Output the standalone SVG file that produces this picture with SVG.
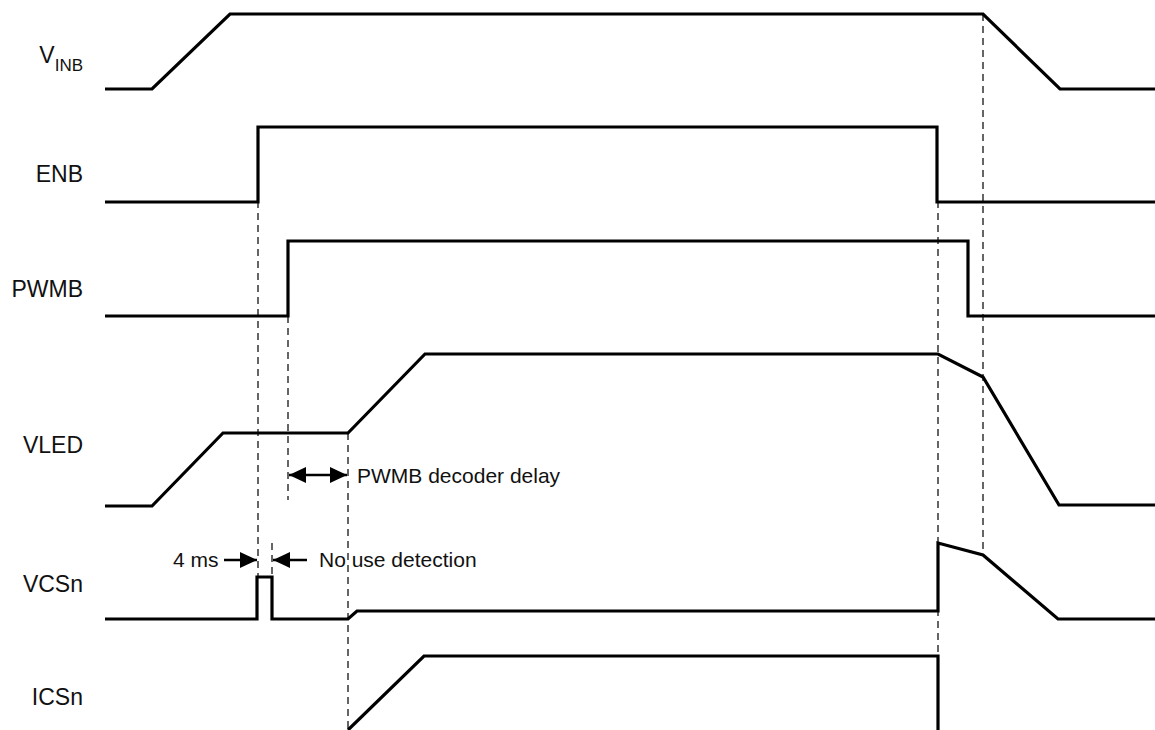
<svg xmlns="http://www.w3.org/2000/svg" width="1155" height="730" viewBox="0 0 1155 730">
<style>
.sig{fill:none;stroke:#000;stroke-width:3.2;stroke-linejoin:miter}
.dash{fill:none;stroke:#333;stroke-width:1.5;stroke-dasharray:7,5}
.lbl{font-family:"Liberation Sans",Arial,sans-serif;font-size:23px;fill:#111;text-anchor:end}
.ann{font-family:"Liberation Sans",Arial,sans-serif;font-size:21px;fill:#111}
.arr{stroke:#000;stroke-width:2.6;fill:none}
</style>
<defs>
<marker id="ah2" viewBox="0 0 10 10" refX="10" refY="5" markerWidth="17" markerHeight="16" markerUnits="userSpaceOnUse" orient="auto-start-reverse" preserveAspectRatio="none">
<path d="M0,0 L10,5 L0,10 Z" fill="#000"/>
</marker>
</defs>
<g id="guides">
<line class="dash" x1="258" y1="201" x2="258" y2="577"/>
<line class="dash" x1="272" y1="543" x2="272" y2="577"/>
<line class="dash" x1="288" y1="316" x2="288" y2="500"/>
<line class="dash" x1="348" y1="433" x2="348" y2="730"/>
<line class="dash" x1="938" y1="201" x2="938" y2="657"/>
<line class="dash" x1="983" y1="14" x2="983" y2="555"/>
</g>
<g id="node-VINB">
<text class="lbl" x="83" y="63">V<tspan style="font-size:17px" dy="8">INB</tspan></text>
<polyline class="sig" points="105,89 152,89 230,14 983,14 1060,89 1155,89"/>
</g>
<g id="node-ENB">
<text class="lbl" x="83" y="182">ENB</text>
<polyline class="sig" points="105,202 258,202 258,127 937,127 937,202 1155,202"/>
</g>
<g id="node-PWMB">
<text class="lbl" x="83" y="297">PWMB</text>
<polyline class="sig" points="105,316 288,316 288,241 968,241 968,316 1155,316"/>
</g>
<g id="node-VLED">
<text class="lbl" x="83" y="453">VLED</text>
<polyline class="sig" points="105,506 152,506 223,433 348,433 425,354 938,354 983,377 1059,505 1155,505"/>
</g>
<g id="node-VCSn">
<text class="lbl" x="83" y="592">VCSn</text>
<polyline class="sig" points="105,619 257,619 257,577 272,577 272,619 348,619 357,611 938,611 938,543 983,555 1058,619 1155,619"/>
</g>
<g id="node-ICSn">
<text class="lbl" x="83" y="705">ICSn</text>
<polyline class="sig" points="348,730 424,656 938,656 938,730"/>
</g>
<g id="connectors">
<line class="arr" x1="289" y1="475" x2="347" y2="475" marker-start="url(#ah2)" marker-end="url(#ah2)"/>
<line class="arr" x1="224" y1="560" x2="257" y2="560" marker-end="url(#ah2)"/>
<line class="arr" x1="307" y1="560" x2="273" y2="560" marker-end="url(#ah2)"/>
</g>
<text class="ann" x="357" y="483">PWMB decoder delay</text>
<text class="ann" x="173" y="567">4 ms</text>
<text class="ann" x="319" y="567">No use detection</text>
</svg>
